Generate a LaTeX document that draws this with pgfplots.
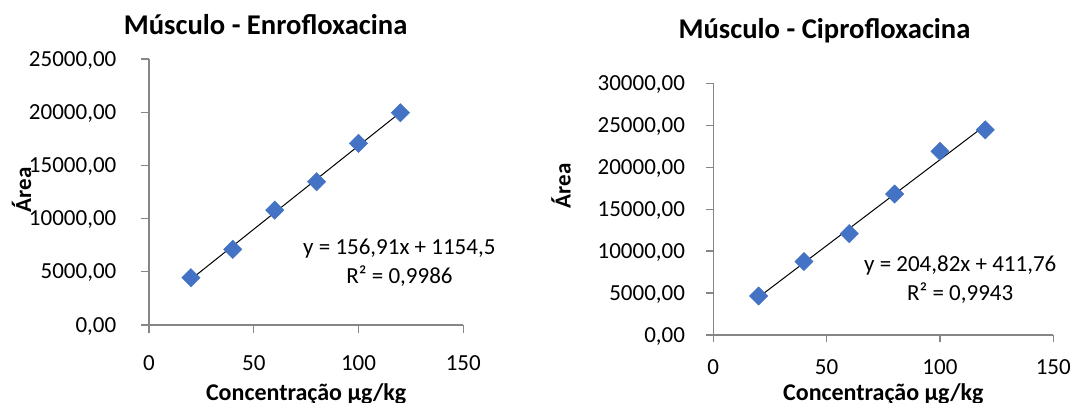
\documentclass[border=0pt]{standalone}
\usepackage{fontspec}
\setmainfont{Carlito}
\usepackage{pgfplots}
\pgfplotsset{compat=1.18}
\definecolor{mk}{RGB}{68,114,196}
\definecolor{axc}{RGB}{134,134,134}
\pgfplotsset{
  excel/.style={
    scale only axis,
    enlargelimits=false,
    clip=false,
    axis lines*=left,
    axis line style={axc, line width=1.3bp},
    tick align=outside,
    major tick length=7.5bp,
    tick style={axc, line width=1.3bp},
    xmin=0, xmax=150,
    xtick={0,50,100,150},
    scaled y ticks=false,
    /pgf/number format/assume math mode=true,
    tick label style={font=\fontsize{23bp}{27bp}\selectfont, text=black},
    yticklabel={\pgfmathprintnumber[fixed, fixed zerofill, precision=2, use comma, 1000 sep={}]{\tick}},
    xticklabel={\pgfmathprintnumber[fixed, precision=0, 1000 sep={}]{\tick}},
  }
}
\begin{document}
\begin{tikzpicture}
\path[use as bounding box] (0bp,0bp) rectangle (1074bp,403bp);
% ---------- left chart ----------
\begin{axis}[excel,
  at={(149bp,78bp)}, anchor=south west,
  width=314.3bp, height=266bp,
  ymin=0, ymax=25000,
  ytick={0,5000,10000,15000,20000,25000},
  yticklabel style={anchor=base east, inner sep=0pt, xshift=-25bp, yshift=-7.2bp},
  xticklabel style={anchor=base, inner sep=0pt, yshift=-38.3bp},
]
\addplot[only marks, mark=square*, mark size=6.5bp, mark options={rotate=45, fill=mk, draw=mk}]
  coordinates {(20,4450) (40,7110) (60,10800) (80,13470) (100,17070) (120,19950)};
\addplot[black, line width=1bp, no marks] coordinates {(20,4292.7) (120,19983.7)};
\end{axis}
% ---------- right chart ----------
\begin{axis}[excel,
  at={(713.3bp,68bp)}, anchor=south west,
  width=340bp, height=251.7bp,
  ymin=0, ymax=30000,
  ytick={0,5000,10000,15000,20000,25000,30000},
  yticklabel style={anchor=base east, inner sep=0pt, xshift=-20.6bp, yshift=-7.2bp},
  xticklabel style={anchor=base, inner sep=0pt, yshift=-31.7bp},
]
\addplot[only marks, mark=square*, mark size=6.5bp, mark options={rotate=45, fill=mk, draw=mk}]
  coordinates {(20,4650) (40,8760) (60,12080) (80,16800) (100,21900) (120,24450)};
\addplot[black, line width=1bp, no marks] coordinates {(20,4508.2) (120,24990.2)};
\end{axis}
% ---------- texts ----------
\tikzset{ttl/.style={font=\bfseries\fontsize{28.6bp}{31bp}\selectfont, anchor=base, inner sep=0pt},
         lbl/.style={font=\bfseries\fontsize{23bp}{27bp}\selectfont, anchor=base, inner sep=0pt},
         xlbl/.style={font=\bfseries\fontsize{24bp}{28bp}\selectfont, anchor=base, inner sep=0pt},
         eqn/.style={font=\fontsize{23bp}{27bp}\selectfont, anchor=base, inner sep=0pt}}
\node[ttl] at (265.6bp,368bp) {Músculo - Enrofloxacina};
\node[ttl] at (824.5bp,364.9bp) {Músculo - Ciprofloxacina};
\node[lbl, rotate=90] at (31bp,213bp) {Área};
\node[lbl, rotate=90] at (570.7bp,217.2bp) {Área};
\node[xlbl] at (306.2bp,2.5bp) {Concentração µg/kg};
\node[xlbl] at (883.3bp,2.5bp) {Concentração µg/kg};
\node[eqn] at (399.3bp,148bp) {y = 156,91x + 1154,5};
\node[eqn] at (399.5bp,119.7bp) {R² = 0,9986};
\node[eqn] at (960.2bp,131bp) {y = 204,82x + 411,76};
\node[eqn] at (960.2bp,102bp) {R² = 0,9943};
\end{tikzpicture}
\end{document}
